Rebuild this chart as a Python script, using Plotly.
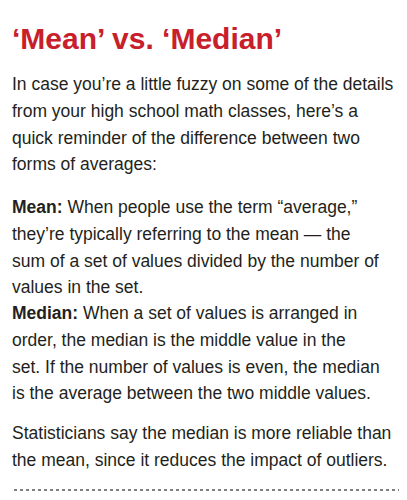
import plotly.graph_objects as go

title = "‘Mean’ vs. ‘Median’"
intro = [
    "In case you’re a little fuzzy on some of the details",
    "from your high school math classes, here’s a",
    "quick reminder of the difference between two",
    "forms of averages:",
]
mean_lines = [
    "<b>Mean:</b> When people use the term “average,”",
    "they’re typically referring to the mean — the",
    "sum of a set of values divided by the number of",
    "values in the set.",
]
median_lines = [
    "<b>Median:</b> When a set of values is arranged in",
    "order, the median is the middle value in the",
    "set. If the number of values is even, the median",
    "is the average between the two middle values.",
]
outro = [
    "Statisticians say the median is more reliable than",
    "the mean, since it reduces the impact of outliers.",
]

FONT = "Liberation Sans Narrow, Liberation Sans, Arial, sans-serif"
fig = go.Figure()

fig.add_annotation(x=2, y=30, text="<b>" + title + "</b>", showarrow=False,
                   xanchor="left", yanchor="middle",
                   font=dict(family=FONT, size=30, color="#c8202a"))

blocks = [(intro, 76), (mean_lines, 199), (median_lines, 305), (outro, 425)]
for lines, y0 in blocks:
    for i, line in enumerate(lines):
        fig.add_annotation(x=2, y=y0 + i * 26.8, text=line, showarrow=False,
                           xanchor="left", yanchor="middle",
                           font=dict(family=FONT, size=17.5, color="#231f20"))

fig.add_shape(type="line", x0=6, x1=401, y0=482, y1=482,
              line=dict(color="#555", width=1.5, dash="dot"))

fig.update_xaxes(range=[0, 407], visible=False)
fig.update_yaxes(range=[500, 0], visible=False)
fig.update_layout(width=407, height=500, margin=dict(l=0, r=0, t=0, b=0),
                  plot_bgcolor="white", paper_bgcolor="white", showlegend=False)
fig.write_html("out.html")
